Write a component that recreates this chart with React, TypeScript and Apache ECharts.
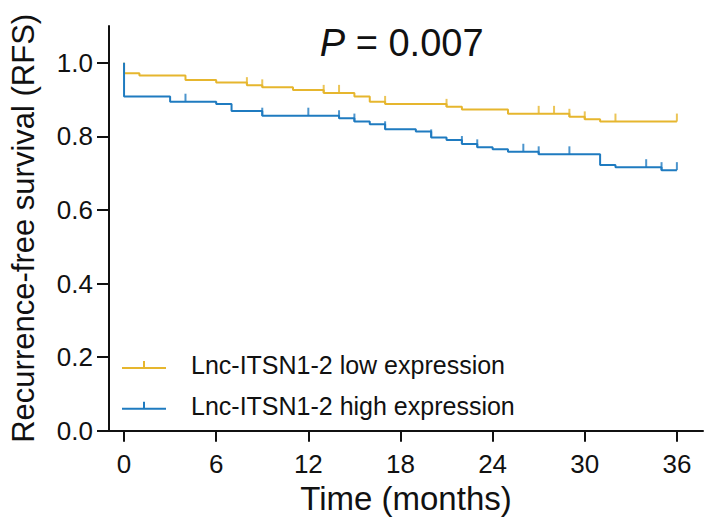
import React, { useEffect, useRef } from "react";
import * as echarts from "echarts";

// Kaplan-Meier step data (time in months, survival proportion after each step)
const lowTimes = [0, 0, 1, 4, 6, 8, 9, 11, 13, 15, 16, 17, 21, 22, 25, 29, 30, 31, 36];
const lowSurv = [1.0, 0.971, 0.965, 0.953, 0.946, 0.939, 0.933, 0.926, 0.918, 0.908, 0.894, 0.888, 0.88, 0.873, 0.861, 0.853, 0.846, 0.84, 0.84];
const lowCensor = [8, 9, 13, 14, 17, 21, 27, 28, 29, 30, 32, 36];

const highTimes = [0, 0, 3, 6, 7, 9, 14, 15, 16, 17, 19, 20, 21, 22, 23, 24, 25, 27, 31, 32, 35, 36];
const highSurv = [1.0, 0.908, 0.894, 0.888, 0.869, 0.856, 0.849, 0.84, 0.833, 0.819, 0.813, 0.797, 0.79, 0.779, 0.77, 0.765, 0.758, 0.751, 0.722, 0.716, 0.708, 0.708];
const highCensor = [4, 9, 12, 14, 15, 17, 20, 22, 23, 26, 27, 29, 34, 35, 36];

const xTicks = [0, 6, 12, 18, 24, 30, 36];
const yTicks = [0, 0.2, 0.4, 0.6, 0.8, 1.0];

const lowName = "Lnc-ITSN1-2 low expression";
const highName = "Lnc-ITSN1-2 high expression";
const pText = "0.007";

const LOW_COLOR = "#E6B62E";
const HIGH_COLOR = "#1F7BC0";
const FONT = "'Liberation Sans', Arial, Helvetica, sans-serif";

function survAt(times: number[], surv: number[], t: number): number {
  let v = surv[0];
  for (let i = 0; i < times.length; i++) {
    if (times[i] <= t) v = surv[i];
  }
  return v;
}

export default function App() {
  const ref = useRef<HTMLDivElement>(null);
  useEffect(() => {
    if (!ref.current) return;
    const chart = echarts.init(ref.current, undefined, { renderer: "svg" });
    const lowLine = lowTimes.map((t, i) => [t, lowSurv[i]]);
    const highLine = highTimes.map((t, i) => [t, highSurv[i]]);
    const lowTicks = lowCensor.map((t) => [t, survAt(lowTimes, lowSurv, t)]);
    const highTicks = highCensor.map((t) => [t, survAt(highTimes, highSurv, t)]);
    const legendIcon = "path://M0,6H44V8H0Z M21,0H23V6H21Z";
    const axisColor = "#111";
    chart.setOption({
      animation: false,
      textStyle: { fontFamily: FONT },
      grid: { left: 100, right: 6, top: 25.9, bottom: 96.3, containLabel: false },
      legend: {
        orient: "vertical",
        left: 117,
        top: 347,
        itemWidth: 44,
        itemHeight: 8,
        itemGap: 14.7,
        icon: legendIcon,
        data: [
          { name: lowName, icon: legendIcon, itemStyle: { color: LOW_COLOR, borderWidth: 0 } },
          { name: highName, icon: legendIcon, itemStyle: { color: HIGH_COLOR, borderWidth: 0 } },
        ],
        textStyle: { fontSize: 25, color: "#111", lineHeight: 26, padding: [0, 0, 0, 20], fontFamily: FONT },
      },
      xAxis: {
        type: "value",
        min: -0.98,
        max: 37.7,
        name: "Time (months)",
        nameLocation: "middle",
        nameGap: 48,
        nameTextStyle: { fontSize: 33, color: axisColor, fontFamily: FONT },
        axisLine: { show: true, onZero: false, lineStyle: { color: axisColor, width: 2 } },
        axisTick: { show: true, customValues: xTicks, length: 11, lineStyle: { color: axisColor, width: 2 } },
        axisLabel: { customValues: xTicks, margin: 20, fontSize: 26, color: axisColor, fontFamily: FONT },
        splitLine: { show: false },
      },
      yAxis: {
        type: "value",
        min: 0,
        max: 1.1,
        name: "Recurrence-free survival (RFS)",
        nameLocation: "middle",
        nameGap: 70,
        nameRotate: 90,
        nameTextStyle: { fontSize: 31, color: axisColor, fontFamily: FONT },
        axisLine: { show: true, onZero: false, lineStyle: { color: axisColor, width: 2 } },
        axisTick: { show: true, customValues: yTicks, length: 12, lineStyle: { color: axisColor, width: 2 } },
        axisLabel: {
          customValues: yTicks,
          margin: 16,
          fontSize: 26,
          color: axisColor,
          fontFamily: FONT,
          formatter: (v: number) => v.toFixed(1),
        },
        splitLine: { show: false },
      },
      series: [
        {
          name: lowName,
          type: "line",
          step: "end",
          data: lowLine,
          showSymbol: false,
          color: LOW_COLOR,
          lineStyle: { color: LOW_COLOR, width: 2 },
          z: 3,
        },
        {
          name: highName,
          type: "line",
          step: "end",
          data: highLine,
          showSymbol: false,
          color: HIGH_COLOR,
          lineStyle: { color: HIGH_COLOR, width: 2 },
          z: 3,
        },
        {
          name: lowName + " censored",
          type: "scatter",
          data: lowTicks,
          symbol: "rect",
          symbolSize: [2, 8],
          symbolOffset: [0, -4],
          itemStyle: { color: LOW_COLOR },
          z: 4,
        },
        {
          name: highName + " censored",
          type: "scatter",
          data: highTicks,
          symbol: "rect",
          symbolSize: [2, 8],
          symbolOffset: [0, -4],
          itemStyle: { color: HIGH_COLOR },
          z: 4,
        },
      ],
      graphic: [
        {
          type: "text",
          x: 401.7,
          y: 43,
          style: {
            text: "{i|P} = " + pText,
            fill: "#111",
            font: "38px " + FONT,
            textAlign: "center",
            textVerticalAlign: "middle",
            rich: {
              i: { fontStyle: "italic", fontSize: 38, fill: "#111", fontFamily: FONT },
            },
          },
        },
      ],
    });
    return () => chart.dispose();
  }, []);
  return (
    <div
      ref={ref}
      style={{ position: "fixed", left: 0, top: 0, width: 709, height: 527, background: "#fff" }}
    />
  );
}
